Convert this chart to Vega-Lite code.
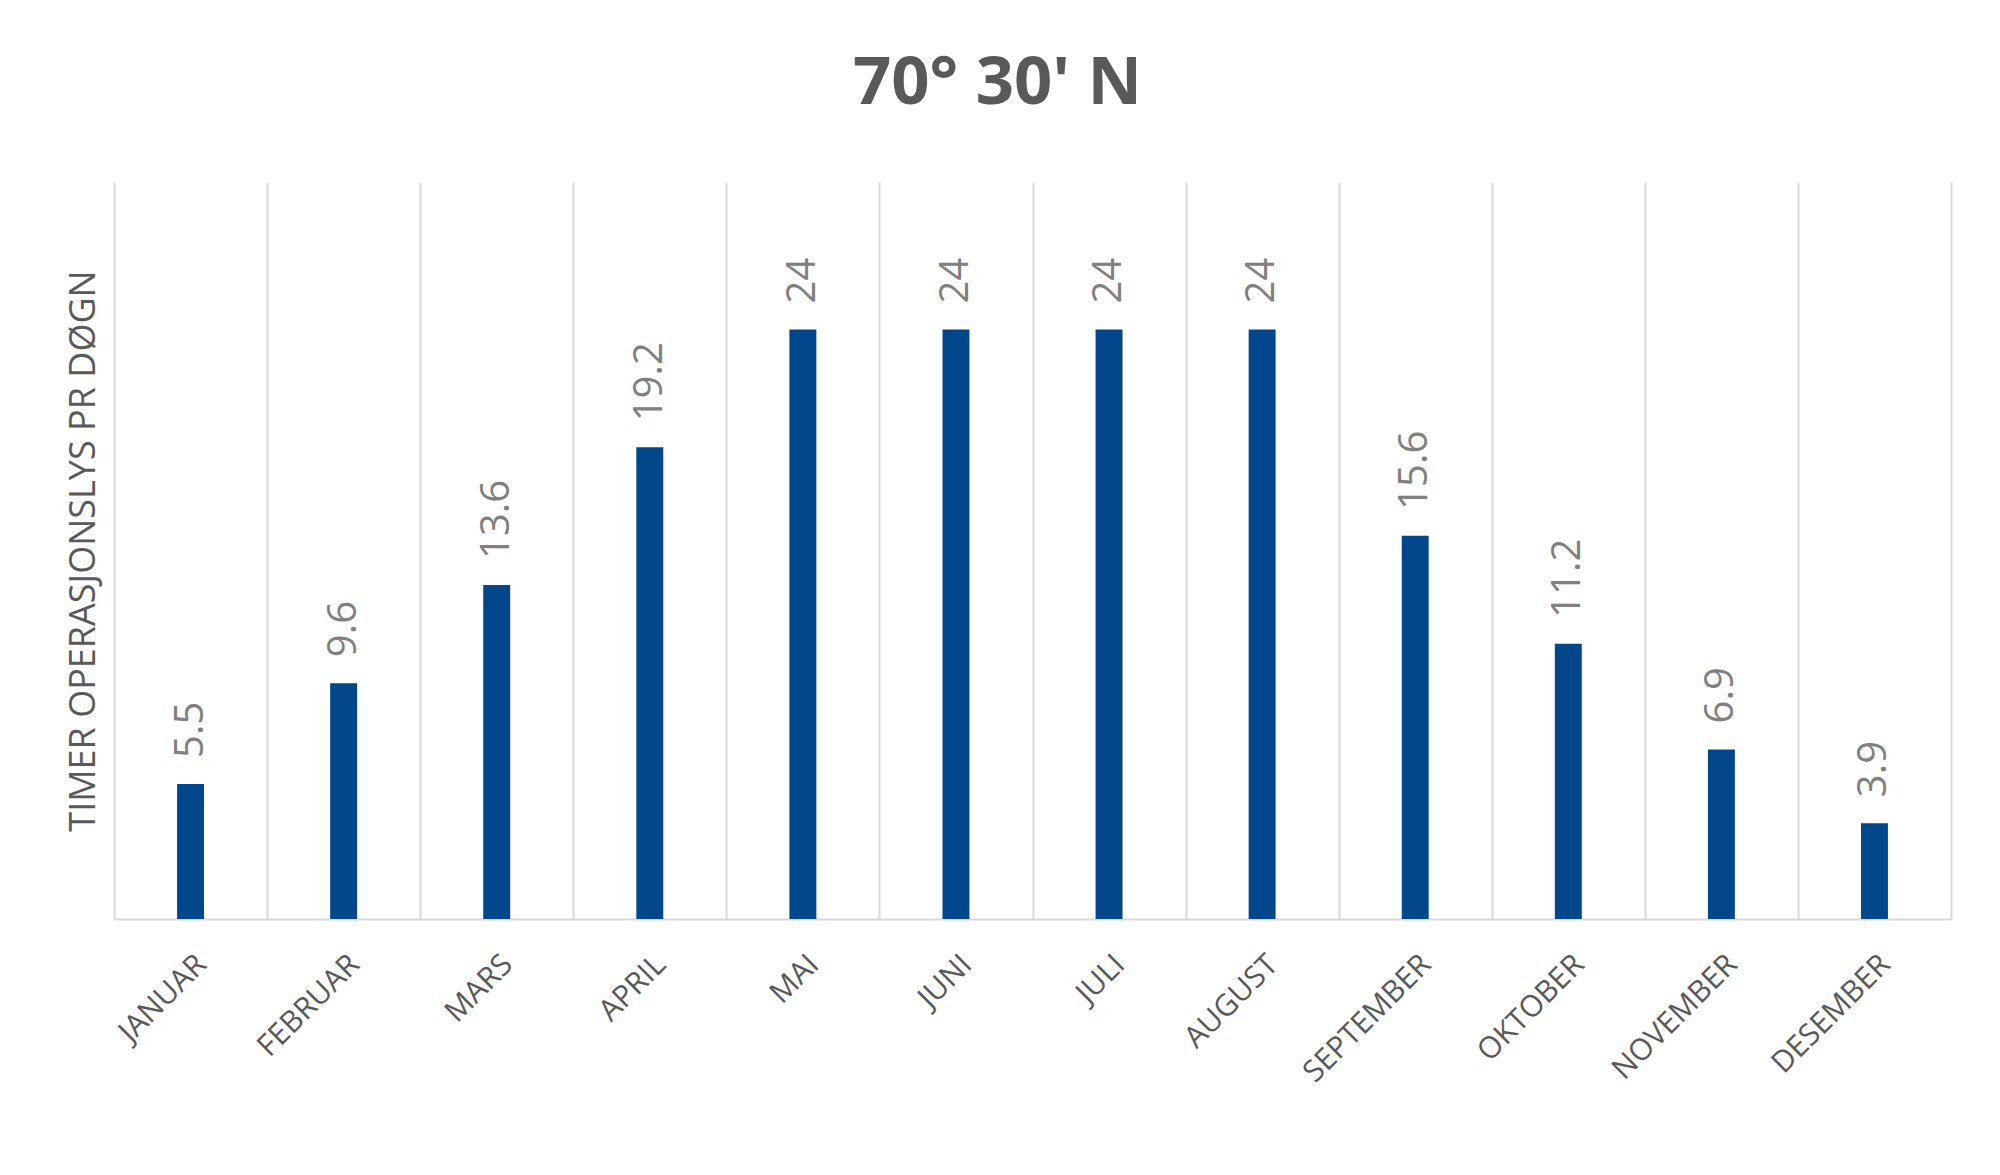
{
  "$schema": "https://vega.github.io/schema/vega-lite/v6.json",
  "autosize": "none",
  "width": 1837,
  "height": 737,
  "padding": {"left": 114, "top": 182, "right": 49, "bottom": 256},
  "background": "white",
  "title": {
    "text": "70° 30' N",
    "font": "Open Sans",
    "fontSize": 67,
    "fontWeight": "bold",
    "color": "#595959",
    "anchor": "middle",
    "dx": -35,
    "offset": 64
  },
  "data": {
    "values": [
      {"month": "JANUAR", "hours": 5.5},
      {"month": "FEBRUAR", "hours": 9.6},
      {"month": "MARS", "hours": 13.6},
      {"month": "APRIL", "hours": 19.2},
      {"month": "MAI", "hours": 24},
      {"month": "JUNI", "hours": 24},
      {"month": "JULI", "hours": 24},
      {"month": "AUGUST", "hours": 24},
      {"month": "SEPTEMBER", "hours": 15.6},
      {"month": "OKTOBER", "hours": 11.2},
      {"month": "NOVEMBER", "hours": 6.9},
      {"month": "DESEMBER", "hours": 3.9}
    ]
  },
  "encoding": {
    "x": {
      "field": "month",
      "type": "nominal",
      "sort": null,
      "scale": {"paddingInner": 0, "paddingOuter": 0},
      "axis": {
        "title": null,
        "labelAngle": -45,
        "labelFont": "Open Sans",
        "labelFontSize": 30,
        "labelColor": "#595959",
        "labelPadding": 30,
        "ticks": false,
        "tickBand": "extent",
        "grid": true,
        "gridColor": "#d9d9d9",
        "gridWidth": 2,
        "domain": true,
        "domainColor": "#d9d9d9",
        "domainWidth": 2
      }
    },
    "y": {
      "field": "hours",
      "type": "quantitative",
      "scale": {"domain": [0, 30], "nice": false},
      "axis": {
        "title": "TIMER OPERASJONSLYS PR DØGN",
        "titleFont": "Open Sans",
        "titleFontSize": 36,
        "titleFontWeight": "normal",
        "titleColor": "#595959",
        "titlePadding": 12,
        "labels": false,
        "ticks": false,
        "domain": false,
        "grid": false
      }
    }
  },
  "layer": [
    {
      "mark": {"type": "bar", "color": "#02468B", "width": {"band": 0.176}}
    },
    {
      "mark": {
        "type": "text",
        "angle": 270,
        "align": "left",
        "baseline": "middle",
        "dx": 26,
        "font": "Open Sans",
        "fontSize": 40,
        "color": "#808080"
      },
      "encoding": {"text": {"field": "hours", "type": "quantitative"}}
    }
  ],
  "config": {"view": {"stroke": null}}
}
